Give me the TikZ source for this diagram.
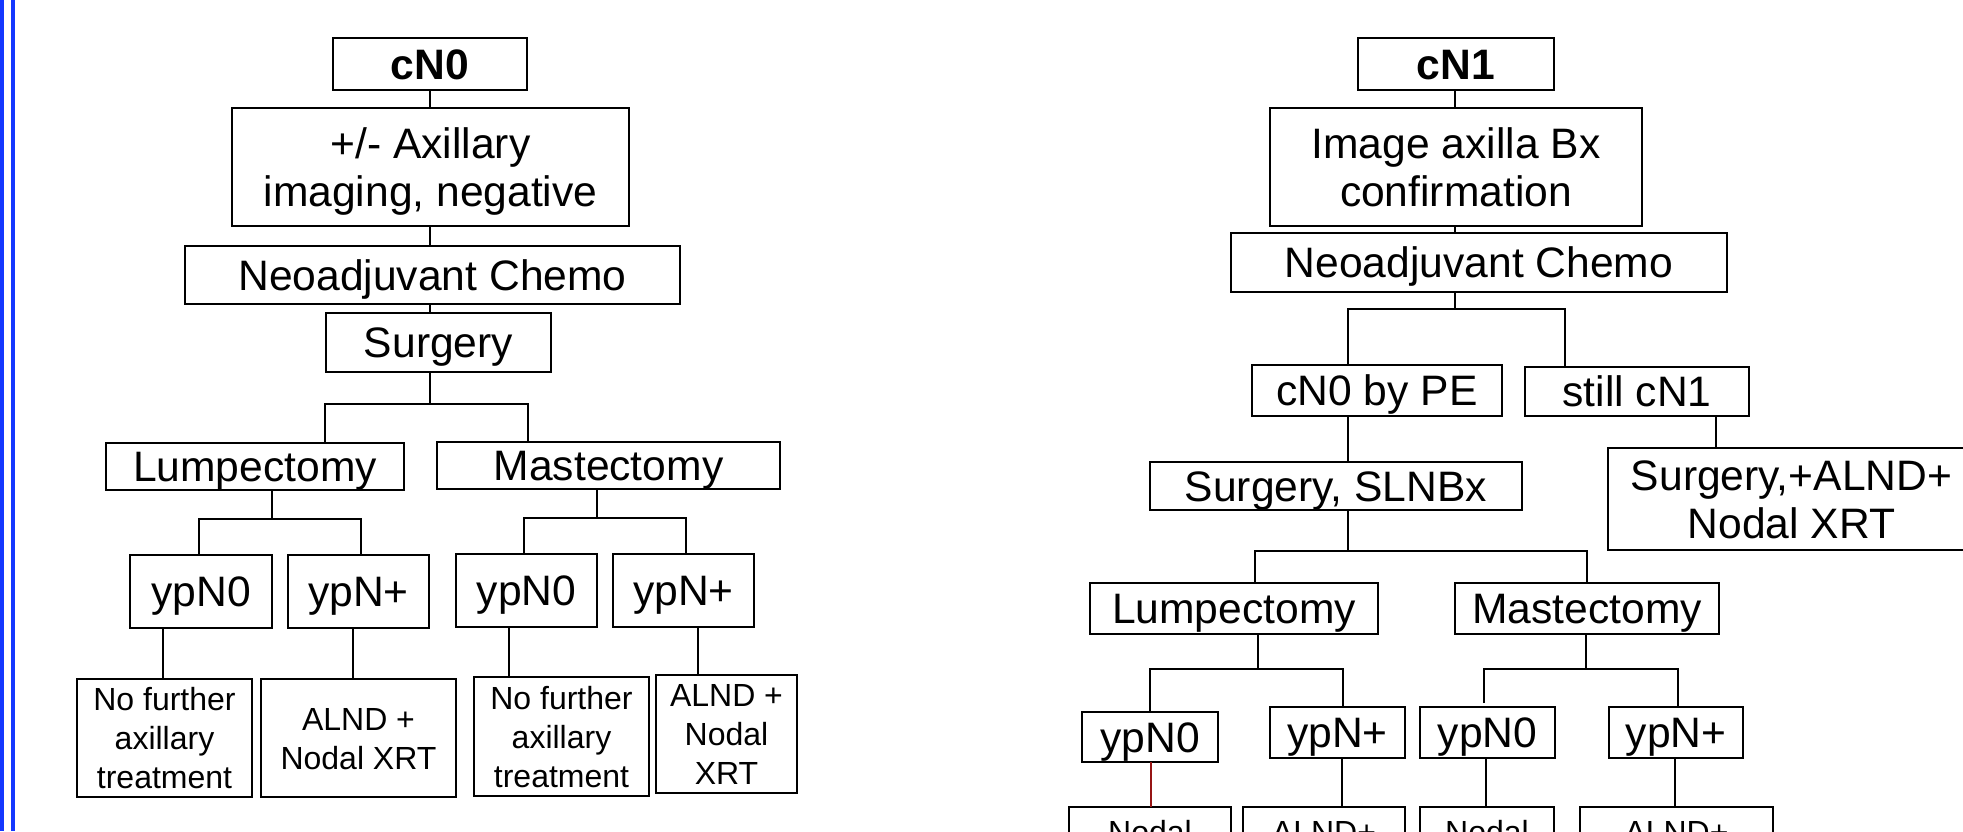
\documentclass[tikz,border=0pt]{standalone}
\usepackage{fontspec}
\setmainfont{Liberation Sans}
\newcommand\mainf{\fontsize{21.3pt}{24pt}\selectfont}
\newcommand\smallf{\fontsize{16pt}{19.5pt}\selectfont}
\newcommand\mlines[1]{\vbox{\halign{\hfil##\hfil\cr#1\crcr}}}
\definecolor{borderblue}{RGB}{20,55,255}
\definecolor{linkred}{RGB}{150,20,20}
\begin{document}
\begin{tikzpicture}[x=0.5pt,y=-0.5pt,
  box/.style={draw, line width=1.1pt, inner sep=0pt, outer sep=0pt, font=\mainf, text height=15.2pt, text depth=0pt},
  sbox/.style={box, font=\smallf, text height=11.5pt},
  wh/.style 2 args={minimum width=#1*0.5pt, minimum height=#2*0.5pt},
  conn/.style={draw, line width=1pt},
  redconn/.style={draw=linkred, line width=0.8pt}]
\useasboundingbox (0,0) rectangle (1963,831);
\fill[white] (0,0) rectangle (1963,831);
\clip (0,0) rectangle (1963,831);
\fill[borderblue] (0,0) rectangle (3.5,831);
\fill[borderblue] (11,0) rectangle (15,831);

% ---------------- left tree ----------------
\node[box, wh={194}{52}, font=\mainf\bfseries] (cN0) at (430,64) {cN0};
\node[box, wh={397}{118}, text height=39.2pt] (ax) at (430.5,167) {\mlines{+/- Axillary\cr imaging, negative}};
\node[box, wh={495}{58}] (chemoL) at (432.5,275) {Neoadjuvant Chemo};
\node[box, wh={225}{59}] (surgL) at (438.5,342.5) {Surgery};
\node[box, wh={298}{47}] (lumpL) at (255,466.5) {Lumpectomy};
\node[box, wh={343}{47}] (mastL) at (608.5,465.5) {Mastectomy};
\node[box, wh={142}{73}] (ypN0L) at (201,591.5) {ypN0};
\node[box, wh={141}{73}] (ypNpL) at (358.5,591.5) {ypN+};
\node[box, wh={141}{73}] (ypN0M) at (526.5,590.5) {ypN0};
\node[box, wh={141}{73}] (ypNpM) at (683.5,590.5) {ypN+};
\node[sbox, wh={175}{118}, text height=50.5pt] (noL) at (164.5,738) {\mlines{No further\cr axillary\cr treatment}};
\node[sbox, wh={195}{118}, text height=31pt] (alndL) at (358.5,738) {\mlines{ALND +\cr Nodal XRT}};
\node[sbox, wh={175}{119}, text height=50.5pt] (noM) at (561.5,736.5) {\mlines{No further\cr axillary\cr treatment}};
\node[sbox, wh={141}{118}, text height=50.5pt] (alndM) at (726.5,734) {\mlines{ALND +\cr Nodal\cr XRT}};

\coordinate (jL0) at (430,404);
\coordinate (jL0a) at (325,404);
\coordinate (jL0b) at (528,404);
\coordinate (jL1) at (272,519);
\coordinate (jL1a) at (199,519);
\coordinate (jL1b) at (361,519);
\coordinate (jL2) at (597,518);
\coordinate (jL2a) at (524,518);
\coordinate (jL2b) at (686,518);
\coordinate (lL1) at (163,650);
\coordinate (lL2) at (353,650);
\coordinate (lL3) at (509,650);
\coordinate (lL4) at (698,650);

\draw[conn] (cN0.south -| jL0) -- (ax.north -| jL0);
\draw[conn] (ax.south -| jL0) -- (chemoL.north -| jL0);
\draw[conn] (chemoL.south -| jL0) -- (surgL.north -| jL0);
\draw[conn] (surgL.south -| jL0) -- (jL0);
\draw[conn] (lumpL.north -| jL0a) -- (jL0a) -- (jL0b) -- (mastL.north -| jL0b);
\draw[conn] (lumpL.south -| jL1) -- (jL1);
\draw[conn] (ypN0L.north -| jL1a) -- (jL1a) -- (jL1b) -- (ypNpL.north -| jL1b);
\draw[conn] (mastL.south -| jL2) -- (jL2);
\draw[conn] (ypN0M.north -| jL2a) -- (jL2a) -- (jL2b) -- (ypNpM.north -| jL2b);
\draw[conn] (ypN0L.south -| lL1) -- (noL.north -| lL1);
\draw[conn] (ypNpL.south -| lL2) -- (alndL.north -| lL2);
\draw[conn] (ypN0M.south -| lL3) -- (noM.north -| lL3);
\draw[conn] (ypNpM.south -| lL4) -- (alndM.north -| lL4);

% ---------------- right tree ----------------
\node[box, wh={196}{52}, font=\mainf\bfseries] (cN1) at (1456,64) {cN1};
\node[box, wh={372}{118}, text height=39.2pt] (img) at (1456,167) {\mlines{Image axilla Bx\cr confirmation}};
\node[box, wh={496}{59}] (chemoR) at (1479,262.5) {Neoadjuvant Chemo};
\node[box, wh={250}{51}] (pe) at (1377,390.5) {cN0 by PE};
\node[box, wh={224}{49}] (still) at (1637,391.5) {still cN1};
\node[box, wh={372}{48}] (slnb) at (1336,486) {Surgery, SLNBx};
\node[box, wh={367}{102}, text height=39.2pt] (bigR) at (1791.5,499) {\mlines{Surgery,+ALND+\cr Nodal XRT}};
\node[box, wh={288}{51}] (lumpR) at (1234,608.5) {Lumpectomy};
\node[box, wh={264}{51}] (mastR) at (1587,608.5) {Mastectomy};
\node[box, wh={136}{50}] (y0RL) at (1150,737) {ypN0};
\node[box, wh={135}{51}] (ypRL) at (1337.5,732.5) {ypN+};
\node[box, wh={135}{51}] (y0RM) at (1487.5,732.5) {ypN0};
\node[box, wh={134}{51}] (ypRM) at (1676,732.5) {ypN+};
\node[sbox, wh={162}{49}] (nod1) at (1150,831.5) {Nodal};
\node[sbox, wh={162}{49}] (alnd1) at (1324,831.5) {ALND+};
\node[sbox, wh={134}{49}] (nod2) at (1487,831.5) {Nodal};
\node[sbox, wh={193}{49}] (alnd2) at (1676.5,831.5) {ALND+};

\coordinate (jR0) at (1455,309);
\coordinate (jR0a) at (1348,309);
\coordinate (jR0b) at (1565,309);
\coordinate (sR1) at (1348,440);
\coordinate (sR2) at (1716,430);
\coordinate (jR1) at (1348,551);
\coordinate (jR1a) at (1255,551);
\coordinate (jR1b) at (1587,551);
\coordinate (jR2) at (1258,669);
\coordinate (jR2a) at (1150,669);
\coordinate (jR2b) at (1343,669);
\coordinate (jR3) at (1586,669);
\coordinate (jR3a) at (1484,669);
\coordinate (jR3b) at (1678,669);
\coordinate (gapEnd) at (1484,703);
\coordinate (lR1) at (1151,780);
\coordinate (lR2) at (1342,780);
\coordinate (lR3) at (1486,780);
\coordinate (lR4) at (1675,780);

\draw[conn] (cN1.south -| jR0) -- (img.north -| jR0);
\draw[conn] (img.south -| jR0) -- (chemoR.north -| jR0);
\draw[conn] (chemoR.south -| jR0) -- (jR0);
\draw[conn] (pe.north -| jR0a) -- (jR0a) -- (jR0b) -- (still.north -| jR0b);
\draw[conn] (pe.south -| sR1) -- (slnb.north -| sR1);
\draw[conn] (still.south -| sR2) -- (bigR.north -| sR2);
\draw[conn] (slnb.south -| jR1) -- (jR1);
\draw[conn] (lumpR.north -| jR1a) -- (jR1a) -- (jR1b) -- (mastR.north -| jR1b);
\draw[conn] (lumpR.south -| jR2) -- (jR2);
\draw[conn] (y0RL.north -| jR2a) -- (jR2a) -- (jR2b) -- (ypRL.north -| jR2b);
\draw[conn] (mastR.south -| jR3) -- (jR3);
\draw[conn] (gapEnd) -- (jR3a) -- (jR3b) -- (ypRM.north -| jR3b);
\draw[redconn] (y0RL.south -| lR1) -- (nod1.north -| lR1);
\draw[conn] (ypRL.south -| lR2) -- (alnd1.north -| lR2);
\draw[conn] (y0RM.south -| lR3) -- (nod2.north -| lR3);
\draw[conn] (ypRM.south -| lR4) -- (alnd2.north -| lR4);
\end{tikzpicture}
\end{document}
